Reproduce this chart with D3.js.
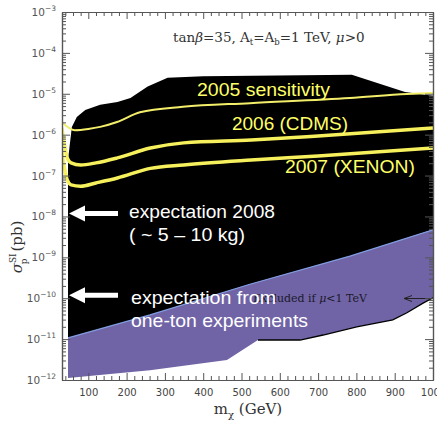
<!DOCTYPE html>
<html><head><meta charset="utf-8">
<script src="https://cdn.jsdelivr.net/npm/d3@7"></script>
<style>body{margin:0;background:#fff}svg{display:block}</style>
</head><body>
<svg id="c" width="437" height="422"></svg>
<script>
// ---- data (mass in GeV, sigma in pb) ----
const massTicks = [100,200,300,400,500,600,700,800,900,1000];
const massTickLabels = ["100","200","300","400","500","600","700","800","900","1000"];
const sigmaExponents = [-3,-4,-5,-6,-7,-8,-9,-10,-11,-12];

// black region: upper boundary (left to right)
const blackTopMass  = [47, 57, 70, 92, 131, 176, 210, 255, 307, 400, 788, 927, 1000];
const blackTopSigma = [2.4e-7, 1.55e-6, 2.7e-6, 4.0e-6, 5.4e-6, 6.3e-6, 7.9e-6, 1.5e-5, 2.45e-5, 2.7e-5, 2.9e-5, 1.1e-5, 8.9e-6];
// purple region: upper boundary (= lower boundary of black)
const purpleTopMass  = [47, 261, 522, 783, 1000];
const purpleTopSigma = [1.07e-11, 3.9e-11, 2.2e-10, 1.07e-9, 4.7e-9];
// purple region: lower boundary
const purpleLowMass  = [47, 261, 462, 543, 653, 713, 801, 895, 932, 974, 1000];
const purpleLowSigma = [1.12e-12, 1.74e-12, 3.1e-12, 9.5e-12, 9.5e-12, 1.26e-11, 2.0e-11, 2.95e-11, 4.4e-11, 7.6e-11, 1.02e-10];

// sensitivity curves
const mass2005  = [30, 65, 100, 131, 175, 235, 347, 522, 783, 932, 1000];
const sigma2005 = [2.04e-6, 1.29e-6, 1.38e-6, 1.55e-6, 2.04e-6, 3.55e-6, 4.8e-6, 5.9e-6, 7.9e-6, 9.9e-6, 1.05e-5];
const mass2006  = [31, 38, 45, 55, 80, 120, 176, 262, 349, 525, 700, 1000];
const sigma2006 = [1.45e-6, 5.6e-7, 2.7e-7, 2.04e-7, 1.82e-7, 2.04e-7, 2.7e-7, 4.7e-7, 6.3e-7, 7.4e-7, 9.3e-7, 1.45e-6];
const mass2007  = [30, 38, 45, 55, 80, 120, 176, 262, 349, 525, 700, 1000];
const sigma2007 = [4.3e-7, 1.5e-7, 7.8e-8, 5.9e-8, 5.5e-8, 6.6e-8, 8.7e-8, 1.5e-7, 1.82e-7, 2.4e-7, 3.0e-7, 4.7e-7];

// expectation arrows (sigma levels)
const expectSigma = [1e-8, 1e-10];

// ---- drawing ----
const svg = d3.select("#c");
const L = 62, R = 433, T = 12, B = 380;
const x = d3.scaleLinear().domain([30, 1000]).range([61.5, R]);
const y = d3.scaleLog().domain([1e-12, 1e-3]).range([B, T]);

svg.append("clipPath").attr("id","plot").append("rect")
  .attr("x",L).attr("y",T).attr("width",R-L).attr("height",B-T);
const g = svg.append("g").attr("clip-path","url(#plot)");

const pts = (ms, ss) => ms.map((m,i)=>[x(m), y(ss[i])]);

// black region
const blackPoly = pts(blackTopMass, blackTopSigma)
  .concat(pts(purpleTopMass, purpleTopSigma).reverse());
g.append("path").attr("d", d3.line()(blackPoly)+"Z").attr("fill","#000");

// purple region
const purplePoly = pts(purpleTopMass, purpleTopSigma)
  .concat(pts(purpleLowMass, purpleLowSigma).reverse());
g.append("path").attr("d", d3.line()(purplePoly)+"Z").attr("fill","#7164a6");
g.append("path").attr("d", d3.line()(pts(purpleTopMass, purpleTopSigma)))
  .attr("fill","none").attr("stroke","#7f9be0").attr("stroke-width",1.2);
// black line on lower boundary (from ~543 GeV)
g.append("path").attr("d", d3.line()(pts(purpleLowMass.slice(3), purpleLowSigma.slice(3))))
  .attr("fill","none").attr("stroke","#000").attr("stroke-width",1.3);

// yellow curves
const cl = d3.line().curve(d3.curveMonotoneX);
g.append("path").attr("d", cl(pts(mass2005, sigma2005)))
  .attr("fill","none").attr("stroke","#f3ee6a").attr("stroke-width",2);
g.append("path").attr("d", cl(pts(mass2006, sigma2006)))
  .attr("fill","none").attr("stroke","#f6f05c").attr("stroke-width",3.5);
g.append("path").attr("d", cl(pts(mass2007, sigma2007)))
  .attr("fill","none").attr("stroke","#f6f05c").attr("stroke-width",3.5);

// curve labels
const yl = svg.append("g").attr("fill","#ffff66").attr("font-family","Liberation Sans, Arial, sans-serif").attr("font-size",18);
yl.append("text").attr("x",197).attr("y",96).attr("textLength",133).attr("lengthAdjust","spacingAndGlyphs").text("2005 sensitivity");
yl.append("text").attr("x",232).attr("y",130).attr("textLength",116).attr("lengthAdjust","spacingAndGlyphs").text("2006 (CDMS)");
yl.append("text").attr("x",285).attr("y",173).attr("textLength",130).attr("lengthAdjust","spacingAndGlyphs").text("2007 (XENON)");

// excluded text + arrow
const ex = svg.append("text").attr("x",253).attr("y",302).attr("font-family","DejaVu Serif, serif")
  .attr("font-size",11).attr("fill","#1a1a2a");
ex.append("tspan").text("Excluded if ");
ex.append("tspan").attr("font-style","italic").text("μ");
ex.append("tspan").text("<1 TeV");
svg.append("line").attr("x1",432).attr("x2",405).attr("y1",298.5).attr("y2",298.5).attr("stroke","#222").attr("stroke-width",1);
svg.append("path").attr("d","M404,298.5 L412,295.5 M404,298.5 L412,301.5").attr("stroke","#222").attr("fill","none");

// white arrows
expectSigma.forEach(s=>{
  const yy = y(s) - 3;
  svg.append("path")
    .attr("d",`M69,${yy} L85,${yy-8} L85,${yy-2.5} L118,${yy-2.5} L118,${yy+2.5} L85,${yy+2.5} L85,${yy+8} Z`)
    .attr("fill","#fff");
});
const wt = svg.append("g").attr("fill","#fff").attr("font-family","Liberation Sans, Arial, sans-serif").attr("font-size",19);
wt.append("text").attr("x",129).attr("y",218).attr("textLength",146).attr("lengthAdjust","spacingAndGlyphs").text("expectation 2008");
wt.append("text").attr("x",129).attr("y",241).attr("textLength",116).attr("lengthAdjust","spacingAndGlyphs").text("( ~ 5 – 10 kg)");
wt.append("text").attr("x",131).attr("y",304).attr("textLength",145).attr("lengthAdjust","spacingAndGlyphs").text("expectation from");
wt.append("text").attr("x",131).attr("y",327).attr("textLength",177).attr("lengthAdjust","spacingAndGlyphs").text("one-ton experiments");

// axes
const axCol = "#555";
const minorX = d3.range(40, 1000, 20).filter(v=>v%100!==0);
const minorY = [];
for (let e=-12; e<-3; e++) for (let k=2;k<10;k++) minorY.push(k*Math.pow(10,e));
const majorY = sigmaExponents.map(e=>Math.pow(10,e));

function styleAxis(sel){ sel.selectAll("path,line").attr("stroke",axCol); sel.select(".domain").attr("stroke-width",1.2); }

svg.append("g").attr("transform",`translate(0,${B})`)
  .call(d3.axisBottom(x).tickValues(massTicks).tickSize(-7).tickSizeOuter(0).tickPadding(9)
    .tickFormat((d,i)=>massTickLabels[i]))
  .call(styleAxis)
  .call(s=>s.selectAll("text").attr("fill","#444").attr("font-size",10).attr("font-family","DejaVu Sans, sans-serif"));
svg.append("g").attr("transform",`translate(0,${B})`)
  .call(d3.axisBottom(x).tickValues(minorX).tickSize(-4).tickSizeOuter(0).tickFormat(""))
  .call(styleAxis);
svg.append("g").attr("transform",`translate(0,${T})`)
  .call(d3.axisTop(x).tickValues(massTicks).tickSize(-7).tickSizeOuter(0).tickFormat(""))
  .call(styleAxis);
svg.append("g").attr("transform",`translate(0,${T})`)
  .call(d3.axisTop(x).tickValues(minorX).tickSize(-4).tickSizeOuter(0).tickFormat(""))
  .call(styleAxis);

svg.append("g").attr("transform",`translate(${L},0)`)
  .call(d3.axisLeft(y).tickValues(majorY).tickSize(-8).tickSizeOuter(0).tickFormat(""))
  .call(styleAxis);
svg.append("g").attr("transform",`translate(${L},0)`)
  .call(d3.axisLeft(y).tickValues(minorY).tickSize(-4).tickSizeOuter(0).tickFormat(""))
  .call(styleAxis);
svg.append("g").attr("transform",`translate(${R},0)`)
  .call(d3.axisRight(y).tickValues(majorY).tickSize(-8).tickSizeOuter(0).tickFormat(""))
  .call(styleAxis);
svg.append("g").attr("transform",`translate(${R},0)`)
  .call(d3.axisRight(y).tickValues(minorY).tickSize(-4).tickSizeOuter(0).tickFormat(""))
  .call(styleAxis);

// y tick labels with superscripts
sigmaExponents.forEach(e=>{
  const t = svg.append("text").attr("x",56).attr("y",y(Math.pow(10,e))+4)
    .attr("text-anchor","end").attr("fill","#555").attr("font-family","DejaVu Sans, sans-serif").attr("font-size",10.5);
  t.append("tspan").text("10");
  t.append("tspan").attr("dy",-5).attr("font-size",7.5).text("−"+(-e));
});

// title annotation
const ti = svg.append("text").attr("x",173).attr("y",42).attr("font-family","DejaVu Serif, serif")
  .attr("font-size",13.5).attr("fill","#333");
ti.append("tspan").text("tan");
ti.append("tspan").attr("font-style","italic").text("β");
ti.append("tspan").text("=35,  A");
ti.append("tspan").attr("dy",3).attr("font-size",8.5).text("t");
ti.append("tspan").attr("dy",-3).text("=A");
ti.append("tspan").attr("dy",3).attr("font-size",8.5).text("b");
ti.append("tspan").attr("dy",-3).text("=1  TeV,  ");
ti.append("tspan").attr("font-style","italic").text("μ");
ti.append("tspan").text(">0");

// axis titles
const xt = svg.append("text").attr("x",248).attr("y",414).attr("text-anchor","middle")
  .attr("font-family","DejaVu Serif, serif").attr("font-size",15).attr("fill","#333");
xt.append("tspan").text("m");
xt.append("tspan").attr("dy",4).attr("font-size",10).text("χ");
xt.append("tspan").attr("dy",-4).text(" (GeV)");

const ytl = svg.append("text").attr("transform","translate(22,247) rotate(-90)").attr("text-anchor","middle")
  .attr("font-family","DejaVu Serif, serif").attr("font-size",15).attr("fill","#333");
ytl.append("tspan").attr("font-style","italic").text("σ");
ytl.append("tspan").attr("dy",-6).attr("font-size",9).text("SI");
ytl.append("tspan").attr("dx",-11).attr("dy",11).attr("font-size",9).text("p");
ytl.append("tspan").attr("dx",7).attr("dy",-5).text("(pb)");
</script>
</body></html>
